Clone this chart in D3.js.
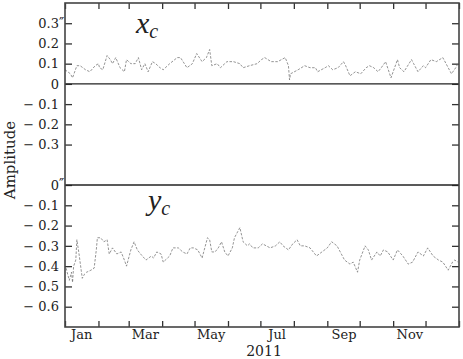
<!DOCTYPE html>
<html>
<head>
<meta charset="utf-8">
<script src="https://cdn.jsdelivr.net/npm/d3@7"></script>
<style>
body { margin: 0; background: #fff; }
text { font-family: "DejaVu Serif", "Liberation Serif", serif; fill: #222; }
</style>
</head>
<body>
<svg width="463" height="359"></svg>
<script>
// day of year (2011) and amplitude in arcsec
var xcDays = [0, 5, 7, 11, 14, 19, 23, 28, 31, 32, 35, 39, 42, 44, 47, 51, 55, 57, 61, 65, 68, 71, 74, 77, 81, 84, 88, 91, 97, 104,
  107, 113, 118, 122, 127, 131, 134, 136, 141, 144, 150, 156, 162, 165, 171, 178, 182, 185, 191, 197, 204, 207, 208, 209, 216, 222, 227, 232, 234, 241,
  244, 248, 253, 258, 260, 264, 269, 274, 279, 282, 286, 290, 293, 297, 302, 308, 310, 314, 321, 323, 327, 332, 334, 339, 344, 350, 353, 358, 362, 364];
var xcVals = [0.07, 0.05, 0.03, 0.09, 0.09, 0.07, 0.06, 0.09, 0.10, 0.08, 0.07, 0.14, 0.12, 0.10, 0.13, 0.08, 0.06, 0.12, 0.10, 0.10, 0.13, 0.07, 0.10, 0.06, 0.11, 0.10, 0.08, 0.07, 0.10, 0.13,
  0.13, 0.08, 0.10, 0.15, 0.11, 0.13, 0.17, 0.09, 0.10, 0.08, 0.11, 0.11, 0.10, 0.08, 0.09, 0.10, 0.12, 0.13, 0.11, 0.11, 0.13, 0.09, 0.02, 0.05, 0.07, 0.09, 0.08, 0.08, 0.06, 0.08,
  0.09, 0.07, 0.08, 0.11, 0.09, 0.04, 0.06, 0.05, 0.08, 0.09, 0.08, 0.06, 0.08, 0.11, 0.03, 0.12, 0.08, 0.06, 0.12, 0.10, 0.06, 0.09, 0.08, 0.12, 0.11, 0.13, 0.10, 0.05, 0.08, 0.10];

var ycDays = [1, 2, 4, 6, 7, 8, 10, 11, 13, 15, 16, 18, 20, 24, 27, 29, 30, 33, 36, 39, 41, 44, 48, 52, 55, 57, 61, 64, 67, 70,
  75, 80, 82, 85, 89, 91, 97, 100, 105, 109, 113, 116, 119, 123, 127, 132, 134, 136, 139, 142, 145, 148, 151, 155, 157, 160, 162, 165, 169, 171,
  174, 179, 183, 190, 195, 199, 202, 207, 211, 215, 218, 222, 227, 233, 238, 243, 247, 252, 255, 259, 264, 267, 271, 273, 278, 281, 284, 289, 292, 295,
  299, 304, 308, 313, 318, 322, 327, 332, 336, 341, 346, 350, 355, 359, 361, 364];
var ycVals = [-0.41, -0.43, -0.47, -0.43, -0.48, -0.40, -0.37, -0.27, -0.34, -0.42, -0.46, -0.44, -0.43, -0.42, -0.41, -0.32, -0.26, -0.26, -0.28, -0.27, -0.34, -0.31, -0.34, -0.33, -0.37, -0.40, -0.32, -0.28, -0.32, -0.34,
  -0.37, -0.35, -0.36, -0.33, -0.34, -0.38, -0.35, -0.31, -0.31, -0.33, -0.34, -0.31, -0.31, -0.32, -0.36, -0.26, -0.27, -0.33, -0.33, -0.31, -0.28, -0.33, -0.35, -0.31, -0.26, -0.23, -0.21, -0.28, -0.30, -0.29,
  -0.31, -0.31, -0.29, -0.31, -0.30, -0.28, -0.30, -0.32, -0.29, -0.27, -0.30, -0.30, -0.31, -0.35, -0.33, -0.31, -0.28, -0.30, -0.33, -0.37, -0.39, -0.38, -0.43, -0.37, -0.30, -0.32, -0.37, -0.33, -0.35, -0.32,
  -0.33, -0.37, -0.32, -0.35, -0.39, -0.38, -0.33, -0.35, -0.31, -0.35, -0.37, -0.38, -0.42, -0.38, -0.37, -0.38];

var topTicks = [0.3, 0.2, 0.1, 0, -0.1, -0.2, -0.3];
var botTicks = [0, -0.1, -0.2, -0.3, -0.4, -0.5, -0.6];
var monthLabels = ["Jan", "Mar", "May", "Jul", "Sep", "Nov"];
var yearLabel = "2011";

var svg = d3.select("svg"),
    pLeft = 65, pRight = 459, pTop = 3, pBottom = 327, pMid = 185;

var start = new Date(2011, 0, 1);
var x = d3.scaleTime().domain([start, new Date(2012, 0, 1)]).range([pLeft, pRight]);
var yTop = d3.scaleLinear().domain([-0.5, 0.4]).range([pMid, pTop]);
var yBot = d3.scaleLinear().domain([-0.7, 0]).range([pBottom, pMid]);

function fmt(d) {
  if (d === 0) return "0";
  return d < 0 ? "\u2212 " + d3.format(".1f")(-d) : d3.format(".1f")(d);
}

function series(days, vals) {
  return days.map(function(d, i) { return {date: d3.timeDay.offset(start, d), value: vals[i]}; });
}

// month ticks top and bottom
svg.append("g")
    .attr("transform", "translate(0," + pTop + ")")
    .call(d3.axisBottom(x).ticks(d3.timeMonth.every(1)).tickSizeInner(6).tickSizeOuter(0).tickFormat(""));
svg.append("g")
    .attr("transform", "translate(0," + pBottom + ")")
    .call(d3.axisTop(x).ticks(d3.timeMonth.every(1)).tickSizeInner(6).tickSizeOuter(0).tickFormat(""));

// month names at mid-month
var labelDates = monthLabels.map(function(m) { return d3.timeParse("%b %d %Y")(m + " 16 2011"); });
svg.append("g")
    .attr("class", "months")
    .attr("transform", "translate(0," + pBottom + ")")
    .call(d3.axisBottom(x).tickValues(labelDates).tickSize(0).tickPadding(3).tickFormat(d3.timeFormat("%b")));

// y axes
svg.append("g")
    .attr("class", "yaxis")
    .attr("transform", "translate(" + pLeft + ",0)")
    .call(d3.axisLeft(yTop).tickValues(topTicks).tickSizeInner(-7).tickSizeOuter(0).tickPadding(6).tickFormat(fmt));
svg.append("g")
    .attr("class", "yaxis")
    .attr("transform", "translate(" + pLeft + ",0)")
    .call(d3.axisLeft(yBot).tickValues(botTicks).tickSizeInner(-7).tickSizeOuter(0).tickPadding(6).tickFormat(fmt));
svg.append("g")
    .attr("transform", "translate(" + pRight + ",0)")
    .call(d3.axisRight(yTop).tickValues(topTicks).tickSizeInner(-7).tickSizeOuter(0).tickFormat(""));
svg.append("g")
    .attr("transform", "translate(" + pRight + ",0)")
    .call(d3.axisRight(yBot).tickValues(botTicks).tickSizeInner(-7).tickSizeOuter(0).tickFormat(""));

svg.selectAll(".domain").remove();
svg.selectAll(".tick line").attr("stroke", "#333").attr("stroke-width", 1.3);
svg.selectAll(".yaxis text, .months text").style("font-size", "13px").attr("fill", "#222");

// arcsec primes
svg.append("text").attr("x", pLeft - 6).attr("y", yTop(0.3)).attr("dy", "0.32em").style("font-size", "14px").text("\u2033");
svg.append("text").attr("x", pLeft - 6).attr("y", yBot(0)).attr("dy", "0.32em").style("font-size", "14px").text("\u2033");

// zero lines
svg.append("line").attr("x1", pLeft).attr("x2", pRight).attr("y1", yTop(0)).attr("y2", yTop(0))
    .attr("stroke", "#222").attr("stroke-width", 1.2);
svg.append("line").attr("x1", pLeft).attr("x2", pRight).attr("y1", yBot(0)).attr("y2", yBot(0))
    .attr("stroke", "#222").attr("stroke-width", 1.5);

// data lines
var lineTop = d3.line().x(function(d) { return x(d.date); }).y(function(d) { return yTop(d.value); });
var lineBot = d3.line().x(function(d) { return x(d.date); }).y(function(d) { return yBot(d.value); });

svg.append("path").datum(series(xcDays, xcVals))
    .attr("d", lineTop).attr("fill", "none").attr("stroke", "#666").attr("stroke-width", 0.7).attr("stroke-dasharray", "2.5,1.5");
svg.append("path").datum(series(ycDays, ycVals))
    .attr("d", lineBot).attr("fill", "none").attr("stroke", "#666").attr("stroke-width", 0.7).attr("stroke-dasharray", "2.5,1.5");

// frame
svg.append("rect").attr("x", pLeft).attr("y", pTop).attr("width", pRight - pLeft).attr("height", pBottom - pTop)
    .attr("fill", "none").attr("stroke", "#444").attr("stroke-width", 1.6);

// panel labels
var xl = svg.append("text").attr("x", 136).attr("y", 33).style("font-family", "Liberation Serif").style("font-style", "italic").style("font-size", "30px");
xl.append("tspan").text("x");
xl.append("tspan").attr("dy", 5).style("font-size", "20px").text("c");
var yl = svg.append("text").attr("x", 148).attr("y", 210).style("font-family", "Liberation Serif").style("font-style", "italic").style("font-size", "30px");
yl.append("tspan").text("y");
yl.append("tspan").attr("dy", 5).style("font-size", "20px").text("c");

// axis titles
svg.append("text").attr("transform", "translate(15,160) rotate(-90)").attr("text-anchor", "middle")
    .style("font-size", "15px").text("Amplitude");
svg.append("text").attr("x", 264).attr("y", 356).attr("text-anchor", "middle")
    .style("font-size", "14px").text(yearLabel);
</script>
</body>
</html>
